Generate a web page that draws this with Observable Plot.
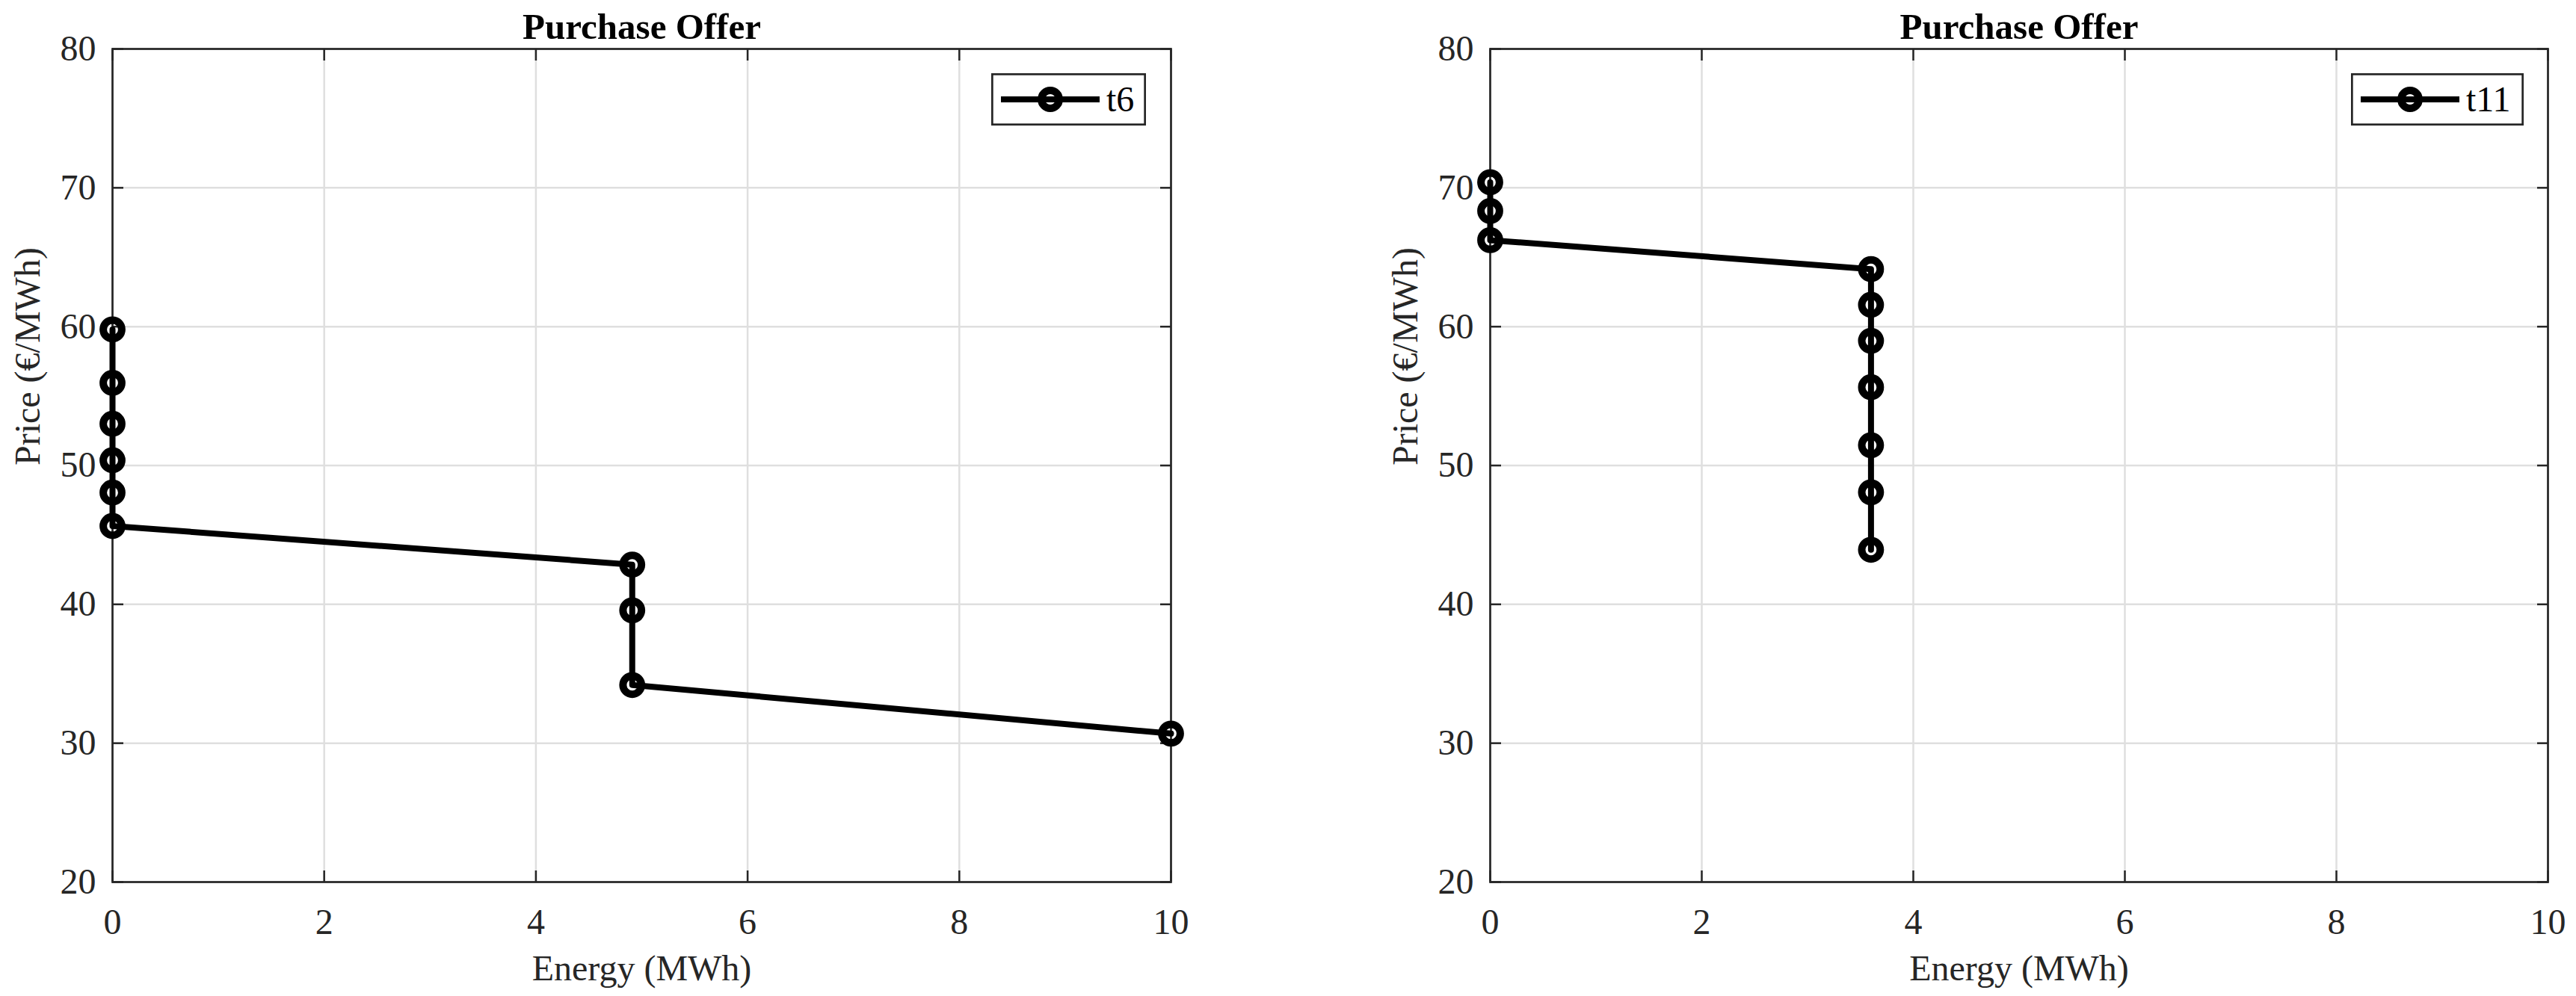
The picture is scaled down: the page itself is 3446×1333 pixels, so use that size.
<!DOCTYPE html>
<html>
<head>
<meta charset="utf-8">
<script src="https://cdn.jsdelivr.net/npm/d3@7"></script>
<script src="https://cdn.jsdelivr.net/npm/@observablehq/plot@0.6"></script>
<style>
  html, body { margin: 0; padding: 0; background: #fff; }
  #wrap { display: flex; width: 3446px; height: 1333px; overflow: hidden; }
  .panel { position: relative; }
  .legend { position: absolute; }
</style>
</head>
<body>
<div id="wrap"></div>
<script>
// ---- chart text ----
const titleText = "Purchase Offer";
const xLabelText = "Energy (MWh)";
const yLabelText = "Price (€/MWh)";

// ---- ticks ----
const xTicks = [0, 2, 4, 6, 8, 10];
const yTicks = [20, 30, 40, 50, 60, 70, 80];

// ---- series ----
const t6Name = "t6";
const t6Energy = [0, 0, 0, 0, 0, 0, 4.91, 4.91, 4.91, 10];
const t6Price  = [59.8, 55.95, 53.0, 50.38, 48.05, 45.64, 42.86, 39.57, 34.19, 30.69];

const t11Name = "t11";
const t11Energy = [0, 0, 0, 3.6, 3.6, 3.6, 3.6, 3.6, 3.6, 3.6];
const t11Price  = [70.4, 68.33, 66.23, 64.14, 61.57, 58.98, 55.64, 51.46, 48.07, 43.93];

const FONT = "'Liberation Serif', 'Times New Roman', serif";
const AXIS = "#262626";
const GRID = "#dfdfdf";
const fmt = d => String(d);

function makePanel(energy, price, name, opts) {
  const data = energy.map((e, i) => ({energy: e, price: price[i]}));
  const W = 1723, H = 1333;
  const plot = Plot.plot({
    width: W, height: H,
    marginLeft: opts.mL, marginRight: opts.mR, marginTop: 65, marginBottom: 153,
    style: {fontFamily: FONT, fontSize: "48px", color: AXIS, background: "white", overflow: "visible"},
    x: {domain: [0, 10]},
    y: {domain: [20, 80]},
    marks: [
      Plot.gridX(xTicks, {stroke: GRID, strokeOpacity: 1, strokeWidth: 2.5}),
      Plot.gridY(yTicks, {stroke: GRID, strokeOpacity: 1, strokeWidth: 2.5}),
      Plot.axisX(xTicks, {anchor: "bottom", tickSize: -15, tickPadding: 50, tickFormat: fmt, strokeWidth: 2.5, label: null, fill: AXIS}),
      Plot.axisX(xTicks, {anchor: "top", tickSize: -15, tickFormat: () => "", strokeWidth: 2.5, label: null}),
      Plot.axisY(yTicks, {anchor: "left", tickSize: -15, tickPadding: 37, tickFormat: fmt, strokeWidth: 2.5, label: null, fill: AXIS}),
      Plot.axisY(yTicks, {anchor: "right", tickSize: -15, tickFormat: () => "", strokeWidth: 2.5, label: null}),
      Plot.frame({stroke: AXIS, strokeWidth: 2.7}),
      Plot.line(data, {x: "energy", y: "price", stroke: "black", strokeWidth: 8}),
      Plot.dot(data, {x: "energy", y: "price", r: 12.4, stroke: "black", strokeWidth: 10, fill: "none"}),
      Plot.text([titleText], {text: d => d, frameAnchor: "top", dy: -29, lineAnchor: "middle",
        fontWeight: "bold", fill: "black", fontSize: 49}),
      Plot.text([xLabelText], {text: d => d, frameAnchor: "bottom", dy: 116, lineAnchor: "middle",
        fill: AXIS, fontSize: 48}),
      Plot.text([yLabelText], {text: d => d, frameAnchor: "left", rotate: -90, dx: -113, lineAnchor: "middle",
        fill: AXIS, fontSize: 48})
    ]
  });

  const div = document.createElement("div");
  div.className = "panel";
  div.style.width = W + "px";
  div.style.height = H + "px";
  div.appendChild(plot);

  // legend box (inside the axes, top-right)
  const lw = opts.legendW, lh = 70;
  const leg = d3.create("svg")
    .attr("class", "legend")
    .attr("width", lw).attr("height", lh)
    .style("left", opts.legendLeft + "px")
    .style("top", "98px");
  leg.append("rect").attr("x", 1.35).attr("y", 1.35).attr("width", lw - 2.7).attr("height", lh - 2.7)
    .attr("fill", "white").attr("stroke", AXIS).attr("stroke-width", 2.7);
  leg.append("line").attr("x1", 13).attr("x2", 145).attr("y1", 35).attr("y2", 35)
    .attr("stroke", "black").attr("stroke-width", 8);
  leg.append("circle").attr("cx", 79).attr("cy", 35).attr("r", 12)
    .attr("fill", "none").attr("stroke", "black").attr("stroke-width", 10);
  leg.append("text").attr("x", 154).attr("y", 51).text(name)
    .attr("fill", "black").style("font-family", FONT).style("font-size", "48px");
  div.appendChild(leg.node());
  return div;
}

const wrap = document.getElementById("wrap");
wrap.appendChild(makePanel(t6Energy, t6Price, t6Name, {mL: 150, mR: 157, legendLeft: 1326, legendW: 207}));
wrap.appendChild(makePanel(t11Energy, t11Price, t11Name, {mL: 270, mR: 38, legendLeft: 3145 - 1723, legendW: 231}));
</script>
</body>
</html>
